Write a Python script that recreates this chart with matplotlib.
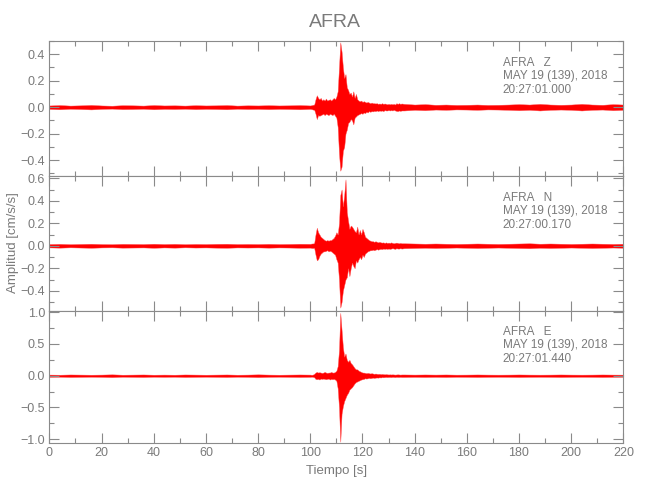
import numpy as np
import matplotlib
matplotlib.use("Agg")
import matplotlib.pyplot as plt
from matplotlib.ticker import MultipleLocator

plt.rcParams['font.family'] = ['Liberation Sans', 'DejaVu Sans']

# tiempos de los nodos de la envolvente (s)
t_quiet = np.arange(0, 101, 4)          # ruido antes del evento
t_event = np.arange(100.5, 135.01, 0.5)  # evento
t_tail = np.arange(136, 221, 4)         # coda

# componente Z
z_quiet = [0.013, 0.016, 0.012, 0.014, 0.017, 0.013, 0.011, 0.015, 0.014, 0.012,
           0.016, 0.013, 0.014, 0.012, 0.015, 0.013, 0.014, 0.016, 0.012, 0.014,
           0.013, 0.015, 0.013, 0.014, 0.016, 0.013]
z_top = [0.015, 0.018, 0.02, 0.06, 0.09, 0.07, 0.06, 0.07, 0.05, 0.06,
         0.05, 0.065, 0.05, 0.055, 0.06, 0.05, 0.06, 0.07, 0.06, 0.08,
         0.12, 0.3, 0.49, 0.42, 0.3, 0.22, 0.25, 0.15, 0.13, 0.1,
         0.11, 0.08, 0.12, 0.07, 0.1, 0.06, 0.05, 0.045, 0.05, 0.04,
         0.045, 0.04, 0.035, 0.04, 0.035, 0.03, 0.035, 0.03, 0.03, 0.028,
         0.03, 0.025, 0.028, 0.025, 0.03, 0.025, 0.028, 0.025, 0.022, 0.025,
         0.022, 0.025, 0.022, 0.025, 0.02, 0.03, 0.025, 0.03, 0.025, 0.028]
z_bot = [-0.015, -0.018, -0.02, -0.05, -0.09, -0.06, -0.065, -0.06, -0.055, -0.05,
         -0.06, -0.05, -0.055, -0.06, -0.05, -0.055, -0.06, -0.05, -0.065, -0.08,
         -0.15, -0.35, -0.48, -0.45, -0.33, -0.3, -0.2, -0.17, -0.12, -0.11,
         -0.09, -0.1, -0.13, -0.08, -0.07, -0.06, -0.055, -0.05, -0.045, -0.05,
         -0.04, -0.045, -0.035, -0.04, -0.03, -0.035, -0.03, -0.032, -0.028, -0.03,
         -0.025, -0.03, -0.025, -0.028, -0.025, -0.03, -0.022, -0.025, -0.025, -0.022,
         -0.025, -0.022, -0.025, -0.02, -0.025, -0.028, -0.03, -0.025, -0.028, -0.025]
z_tail = [0.025, 0.02, 0.023, 0.018, 0.02, 0.017, 0.018, 0.02, 0.017, 0.018,
          0.02, 0.023, 0.02, 0.025, 0.02, 0.018, 0.02, 0.025, 0.02, 0.018,
          0.023, 0.02]

# componente N
n_quiet = [0.015, 0.017, 0.014, 0.016, 0.018, 0.015, 0.014, 0.017, 0.016, 0.015,
           0.018, 0.015, 0.017, 0.014, 0.016, 0.015, 0.017, 0.018, 0.015, 0.016,
           0.015, 0.017, 0.015, 0.016, 0.018, 0.017]
n_top = [0.02, 0.02, 0.025, 0.1, 0.16, 0.12, 0.1, 0.08, 0.07, 0.06,
         0.05, 0.045, 0.05, 0.045, 0.05, 0.05, 0.06, 0.07, 0.09, 0.12,
         0.1, 0.2, 0.45, 0.5, 0.35, 0.45, 0.59, 0.3, 0.22, 0.15,
         0.18, 0.17, 0.15, 0.13, 0.12, 0.17, 0.1, 0.14, 0.1, 0.15,
         0.12, 0.08, 0.07, 0.06, 0.05, 0.045, 0.04, 0.04, 0.035, 0.04,
         0.035, 0.03, 0.035, 0.03, 0.028, 0.03, 0.025, 0.03, 0.025, 0.028,
         0.025, 0.03, 0.025, 0.022, 0.025, 0.028, 0.025, 0.022, 0.025, 0.022]
n_bot = [-0.02, -0.02, -0.02, -0.08, -0.13, -0.12, -0.09, -0.07, -0.06, -0.05,
         -0.05, -0.045, -0.04, -0.05, -0.045, -0.05, -0.06, -0.07, -0.08, -0.12,
         -0.15, -0.3, -0.55, -0.5, -0.4, -0.35, -0.3, -0.28, -0.2, -0.27,
         -0.2, -0.15, -0.18, -0.2, -0.13, -0.15, -0.12, -0.1, -0.12, -0.08,
         -0.1, -0.07, -0.06, -0.05, -0.045, -0.04, -0.04, -0.035, -0.04, -0.035,
         -0.03, -0.035, -0.03, -0.028, -0.03, -0.025, -0.028, -0.025, -0.028, -0.025,
         -0.028, -0.025, -0.022, -0.025, -0.028, -0.022, -0.025, -0.025, -0.022, -0.025]
n_tail = [0.022, 0.02, 0.018, 0.02, 0.018, 0.016, 0.018, 0.02, 0.018, 0.016,
          0.018, 0.02, 0.022, 0.018, 0.02, 0.018, 0.016, 0.018, 0.02, 0.018,
          0.016, 0.018]

# componente E
e_quiet = [0.018, 0.016, 0.02, 0.018, 0.016, 0.018, 0.022, 0.016, 0.018, 0.02,
           0.016, 0.018, 0.016, 0.02, 0.018, 0.016, 0.018, 0.02, 0.016, 0.018,
           0.022, 0.018, 0.016, 0.018, 0.02, 0.018]
e_top = [0.015, 0.018, 0.03, 0.05, 0.06, 0.05, 0.055, 0.05, 0.045, 0.05,
         0.06, 0.05, 0.045, 0.05, 0.05, 0.06, 0.05, 0.05, 0.06, 0.08,
         0.15, 0.4, 0.99, 0.72, 0.45, 0.3, 0.35, 0.25, 0.22, 0.25,
         0.2, 0.18, 0.15, 0.12, 0.1, 0.1, 0.08, 0.07, 0.06, 0.05,
         0.05, 0.045, 0.04, 0.045, 0.04, 0.035, 0.04, 0.035, 0.03, 0.035,
         0.03, 0.028, 0.03, 0.025, 0.028, 0.025, 0.022, 0.025, 0.022, 0.02,
         0.022, 0.02, 0.022, 0.02, 0.018, 0.02, 0.022, 0.02, 0.018, 0.02]
e_bot = [-0.015, -0.018, -0.025, -0.05, -0.055, -0.05, -0.06, -0.045, -0.05, -0.045,
         -0.05, -0.055, -0.05, -0.045, -0.06, -0.05, -0.055, -0.05, -0.06, -0.08,
         -0.2, -0.5, -1.04, -0.6, -0.48, -0.4, -0.35, -0.3, -0.27, -0.22,
         -0.2, -0.18, -0.15, -0.12, -0.1, -0.09, -0.08, -0.07, -0.06, -0.055,
         -0.05, -0.04, -0.045, -0.04, -0.035, -0.04, -0.035, -0.03, -0.035, -0.03,
         -0.028, -0.03, -0.025, -0.028, -0.022, -0.025, -0.022, -0.02, -0.022, -0.02,
         -0.02, -0.022, -0.018, -0.02, -0.022, -0.018, -0.02, -0.02, -0.018, -0.02]
e_tail = [0.02, 0.018, 0.02, 0.018, 0.02, 0.017, 0.018, 0.02, 0.018, 0.017,
          0.018, 0.02, 0.018, 0.017, 0.018, 0.02, 0.018, 0.017, 0.018, 0.02,
          0.018, 0.017]

channels = ["Z", "N", "E"]
start_times = ["20:27:01.000", "20:27:00.170", "20:27:01.440"]
ylims = [(-0.52, 0.50), (-0.58, 0.62), (-1.06, 1.02)]
major_step = [0.2, 0.2, 0.5]
minor_step = [0.1, 0.1, 0.25]
traces = [(z_quiet, z_top, z_bot, z_tail),
          (n_quiet, n_top, n_bot, n_tail),
          (e_quiet, e_top, e_bot, e_tail)]

gray = "#8a8a8a"
tgray = "#7a7a7a"

fig = plt.figure(figsize=(6.5, 5), dpi=100)
boxes = [[0.076, 0.648, 0.883, 0.270],
         [0.076, 0.378, 0.883, 0.270],
         [0.076, 0.114, 0.883, 0.264]]

for i, box in enumerate(boxes):
    ax = fig.add_axes(box)
    quiet, top, bot, tail = traces[i]
    t = np.concatenate([t_quiet, t_event, t_tail])
    upper = np.concatenate([quiet, top, tail])
    lower = np.concatenate([-np.array(quiet), bot, -np.array(tail)])
    ax.fill_between(t, lower, upper, facecolor="#ff0000", edgecolor="#ff5050",
                    lw=0.3, clip_on=False)

    ax.set_xlim(0, 220)
    ax.set_ylim(*ylims[i])
    ax.xaxis.set_major_locator(MultipleLocator(20))
    ax.xaxis.set_minor_locator(MultipleLocator(10))
    ax.yaxis.set_major_locator(MultipleLocator(major_step[i]))
    ax.yaxis.set_minor_locator(MultipleLocator(minor_step[i]))
    ax.tick_params(which="both", direction="in", top=True, right=True,
                   color=gray, labelcolor=tgray, labelsize=9, width=0.8, pad=3)
    ax.tick_params(which="major", length=7)
    ax.tick_params(which="minor", length=3.5)
    for s in ax.spines.values():
        s.set_color(gray)
        s.set_linewidth(0.8)
    if i < 2:
        ax.tick_params(labelbottom=False)

    ax.text(0.79, 0.84, f"AFRA   {channels[i]}", transform=ax.transAxes,
            color=tgray, fontsize=8.5, va="center")
    ax.text(0.79, 0.74, "MAY 19 (139), 2018", transform=ax.transAxes,
            color=tgray, fontsize=8.5, va="center")
    ax.text(0.79, 0.635, start_times[i], transform=ax.transAxes,
            color=tgray, fontsize=8.5, va="center")

    if i == 2:
        ax.set_xlabel("Tiempo [s]", color=tgray, fontsize=9.5, labelpad=4)

fig.text(0.515, 0.955, "AFRA", ha="center", va="center", color=tgray, fontsize=14)
fig.text(0.02, 0.515, "Amplitud [cm/s/s]", rotation=90, ha="center", va="center",
         color=tgray, fontsize=9.5)

fig.savefig("out.png", dpi=100)
